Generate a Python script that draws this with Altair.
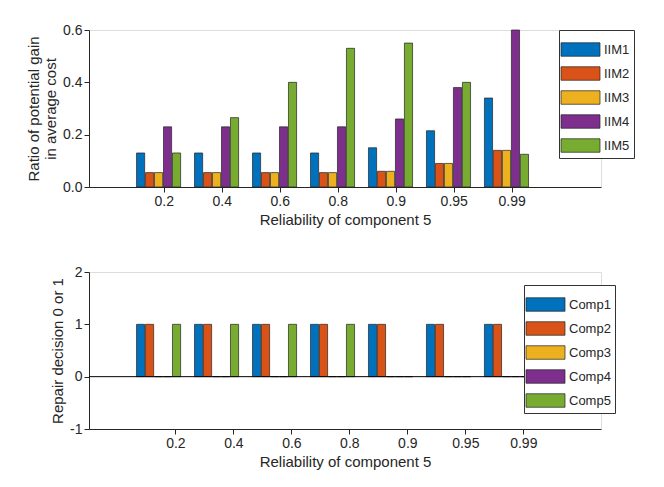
import altair as alt
import pandas as pd

labels = ["0.2", "0.4", "0.6", "0.8", "0.9", "0.95", "0.99"]
iim = ["IIM1", "IIM2", "IIM3", "IIM4", "IIM5"]
iim_vals = [
    [0.13, 0.055, 0.055, 0.23, 0.13],
    [0.13, 0.055, 0.055, 0.23, 0.265],
    [0.13, 0.055, 0.055, 0.23, 0.40],
    [0.13, 0.055, 0.055, 0.23, 0.53],
    [0.15, 0.06, 0.06, 0.26, 0.55],
    [0.215, 0.09, 0.09, 0.38, 0.40],
    [0.34, 0.14, 0.14, 0.60, 0.125],
]
comp = ["Comp1", "Comp2", "Comp3", "Comp4", "Comp5"]
comp_vals = [
    [1, 1, 0, 0, 1],
    [1, 1, 0, 0, 1],
    [1, 1, 0, 0, 1],
    [1, 1, 0, 0, 1],
    [1, 1, 0, 0, 0],
    [1, 1, 0, 0, 0],
    [1, 1, 0, 0, 0],
]
colors = ["#0072BD", "#D95319", "#EDB120", "#7E2F8E", "#77AC30"]
offs = [-0.31, -0.155, 0, 0.155, 0.31]

def frame(names, vals):
    rows = []
    for g, row in enumerate(vals):
        for k, v in enumerate(row):
            c = g + 1 + offs[k]
            rows.append(dict(s=names[k], x=c - 0.07, x2=c + 0.07, v=v))
    return pd.DataFrame(rows)

def tick_expr(shift):
    parts = " : ".join(
        f"abs(datum.value - {i+1+shift}) < 0.01 ? '{l}'" for i, l in enumerate(labels))
    return parts + " : ''"

def panel(df, names, ytitle, ydom, yticks, shift, lx, ly, zero=False):
    xs = alt.Scale(domain=[-0.2, 8.63], nice=False, zero=False)
    ax = alt.Axis(values=[i + 1 + shift for i in range(7)], labelExpr=tick_expr(shift),
                  grid=False, title="Reliability of component 5", tickSize=5,
                  labelFontSize=14, titleFontSize=15, titleFontWeight="normal",
                  labelColor="#262626", titleColor="#262626", domainColor="#262626", tickColor="#262626")
    ay = alt.Axis(values=yticks, grid=False, title=ytitle, labelFontSize=14, titleFontSize=15,
                  titleFontWeight="normal", labelColor="#262626", titleColor="#262626",
                  domainColor="#262626", tickColor="#262626", tickSize=5,
                  labelExpr="replace(datum.label, '−', '-')")
    bars = alt.Chart(df).mark_bar(stroke="#222", strokeWidth=0.7).encode(
        x=alt.X("x:Q", scale=xs, axis=ax),
        x2="x2:Q",
        y=alt.Y("v:Q", scale=alt.Scale(domain=ydom, nice=False), axis=ay),
        y2=alt.datum(0),
        color=alt.Color("s:N", scale=alt.Scale(domain=names, range=colors),
                        legend=alt.Legend(title=None, orient="none", legendX=lx, legendY=ly,
                                          symbolType="M-1.3,-0.45H1.3V0.45H-1.3Z", symbolSize=900,
                                          labelFontSize=13, labelColor="#262626",
                                          strokeColor="#333", padding=4, rowPadding=0,
                                          fillColor="white", symbolStrokeColor="#222",
                                          symbolStrokeWidth=0.7, symbolOffset=2, labelOffset=8)),
    )
    layers = [bars]
    if zero:
        layers.append(alt.Chart(pd.DataFrame({"z": [0]})).mark_rule(color="black").encode(y="z:Q"))
    return alt.layer(*layers).properties(width=512, height=157)

top = panel(frame(iim, iim_vals), iim, ["Ratio of potential gain", "in average cost"],
            [0, 0.6], [0, 0.2, 0.4, 0.6], 0.09, 470, 0)
bot = panel(frame(comp, comp_vals), comp, "Repair decision 0 or 1",
            [-1, 2], [-1, 0, 1, 2], 0.29, 435, 13, zero=True)

chart = alt.vconcat(top, bot, spacing=36).resolve_scale(color="independent").properties(
    padding={"left": 18, "top": 14, "right": 5, "bottom": 5}).configure_view(
    stroke="#262626").configure(font="Liberation Sans")
chart.save("out.html", embed_options={"renderer": "svg", "actions": False})
